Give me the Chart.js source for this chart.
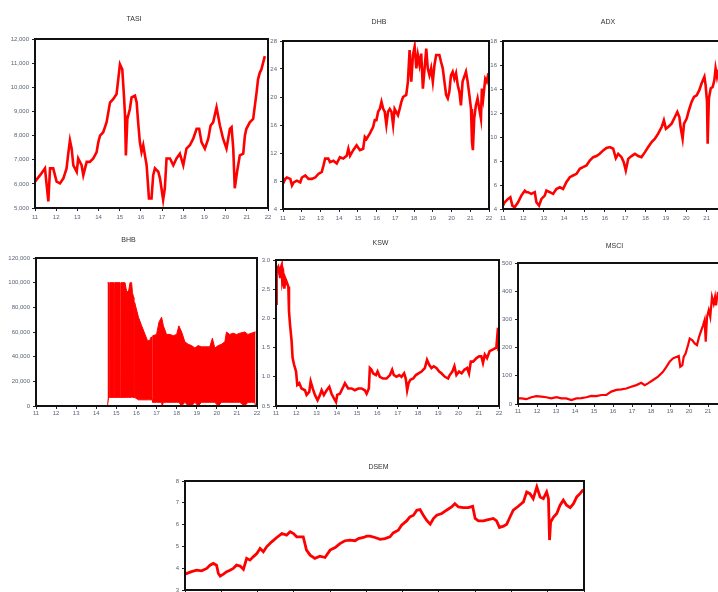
<!DOCTYPE html>
<html>
<head>
<meta charset="utf-8">
<script src="https://cdn.jsdelivr.net/npm/chart.js"></script>
<style>
  html, body { margin: 0; padding: 0; background: #fff; overflow: hidden; }
  body { width: 718px; height: 592px; position: relative; }
  canvas { position: absolute; }
</style>
</head>
<body>
<canvas id="tasi" width="275" height="216" style="left:0px;top:10px"></canvas>
<canvas id="dhb" width="227" height="217" style="left:269px;top:10px"></canvas>
<canvas id="adx" width="245" height="217" style="left:489px;top:10px"></canvas>
<canvas id="bhb" width="264" height="196" style="left:0px;top:228px"></canvas>
<canvas id="ksw" width="244" height="196" style="left:262px;top:228px"></canvas>
<canvas id="msci" width="232" height="194" style="left:502px;top:228px"></canvas>
<canvas id="dsem" width="418" height="153" style="left:173px;top:455px"></canvas>
<script>
// year axis: 11 = start of 2011 ... 22 = start of 2022
const yearTicks = [11, 12, 13, 14, 15, 16, 17, 18, 19, 20, 21, 22];

// [year, value]
const tasi = [
  [11.00,6090],[11.24,6360],[11.47,6640],[11.63,5270],[11.71,6640],[11.86,6640],[12.02,6090],[12.18,6020],[12.34,6230],[12.49,6640],
  [12.57,7250],[12.65,7800],[12.73,7460],[12.81,6770],[12.97,6500],[13.04,7050],[13.20,6770],[13.28,6360],[13.44,6910],[13.59,6910],
  [13.75,7050],[13.91,7320],[13.99,7730],[14.07,8000],[14.22,8140],[14.38,8550],[14.54,9370],[14.69,9510],[14.85,9720],[14.93,10330],
  [15.01,10950],[15.12,10740],[15.20,9650],[15.25,8830],[15.29,7180],[15.36,8690],[15.48,9100],[15.56,9580],[15.72,9650],[15.80,9370],
  [15.87,8550],[15.95,7730],[16.03,7320],[16.11,7600],[16.19,7180],[16.27,6770],[16.38,5400],[16.50,5400],[16.58,6360],[16.66,6640],
  [16.82,6500],[16.90,6230],[17.05,5340],[17.13,5820],[17.21,7050],[17.37,7050],[17.53,6770],[17.68,7050],[17.84,7250],[18.00,6770],
  [18.15,7460],[18.31,7600],[18.47,7870],[18.63,8280],[18.75,8280],[18.86,7730],[19.02,7460],[19.18,7870],[19.29,8420],[19.41,8550],
  [19.57,9170],[19.73,8420],[19.88,7870],[20.04,7460],[20.20,8280],[20.28,8350],[20.36,7460],[20.43,5820],[20.54,6500],[20.67,7180],
  [20.83,7250],[20.91,8000],[20.98,8280],[21.14,8550],[21.30,8690],[21.38,9240],[21.46,9780],[21.53,10330],[21.61,10600],[21.69,10740],
  [21.77,11020],[21.85,11290]
];

const dhb = [
  [11.00,7.6],[11.12,8.3],[11.21,8.5],[11.39,8.3],[11.48,7.35],[11.57,7.8],[11.74,8.05],[11.92,7.8],[12.01,8.5],[12.19,8.8],
  [12.36,8.3],[12.54,8.3],[12.72,8.5],[12.89,9.0],[13.07,9.3],[13.16,10.2],[13.25,11.2],[13.42,11.2],[13.51,10.7],[13.69,10.9],
  [13.87,10.5],[14.04,11.4],[14.22,11.2],[14.40,11.6],[14.49,12.6],[14.58,11.6],[14.75,12.4],[14.93,13.1],[15.11,12.4],[15.28,12.6],
  [15.37,14.3],[15.46,14.0],[15.64,14.8],[15.81,15.7],[15.90,16.7],[15.99,16.7],[16.08,17.9],[16.17,18.3],[16.26,19.3],[16.35,18.3],
  [16.43,17.9],[16.52,16.0],[16.61,17.9],[16.70,18.3],[16.79,17.9],[16.88,16.0],[16.96,18.3],[17.14,17.4],[17.23,18.3],[17.32,19.3],
  [17.41,20.0],[17.58,20.3],[17.67,22.2],[17.76,26.7],[17.85,22.2],[17.94,26.0],[18.03,27.2],[18.12,24.1],[18.20,26.0],[18.29,24.6],
  [18.38,26.2],[18.47,21.2],[18.56,24.1],[18.65,26.9],[18.73,24.1],[18.82,23.1],[18.91,24.1],[19.00,22.2],[19.09,24.6],[19.18,26.0],
  [19.35,26.0],[19.44,25.0],[19.53,24.1],[19.62,22.2],[19.71,20.3],[19.80,19.8],[19.88,20.7],[19.97,23.1],[20.06,23.6],[20.15,22.6],
  [20.24,23.4],[20.33,21.7],[20.42,20.7],[20.50,18.8],[20.59,22.2],[20.68,22.9],[20.77,23.6],[20.86,22.2],[20.95,20.3],[21.04,18.3],
  [21.09,13.6],[21.14,12.4],[21.21,16.9],[21.30,18.8],[21.39,19.8],[21.48,18.3],[21.57,16.9],[21.62,21.2],[21.69,19.8],[21.80,22.6],
  [21.88,22.2],[21.97,23.4]
];

const adx = [
  [11.00,4.28],[11.08,4.56],[11.25,4.84],[11.36,4.98],[11.46,4.28],[11.57,4.14],[11.74,4.56],[11.90,5.12],[12.07,5.53],[12.15,5.40],
  [12.23,5.40],[12.39,5.26],[12.56,5.40],[12.64,4.56],[12.77,4.28],[12.89,4.84],[13.05,5.12],[13.13,5.53],[13.30,5.40],[13.46,5.26],
  [13.62,5.67],[13.79,5.81],[13.95,5.67],[14.11,6.23],[14.28,6.65],[14.44,6.79],[14.61,6.93],[14.77,7.35],[14.93,7.49],[15.10,7.63],
  [15.26,8.04],[15.43,8.32],[15.59,8.41],[15.75,8.60],[15.92,8.88],[16.08,9.08],[16.25,9.16],[16.41,9.02],[16.54,8.24],[16.66,8.60],
  [16.82,8.32],[16.93,7.90],[17.03,7.21],[17.15,8.18],[17.31,8.41],[17.48,8.60],[17.64,8.41],[17.80,8.32],[17.97,8.74],[18.13,9.16],
  [18.30,9.58],[18.46,9.86],[18.62,10.28],[18.79,10.83],[18.90,11.39],[19.00,10.69],[19.11,10.83],[19.28,11.11],[19.44,11.67],[19.56,12.09],
  [19.66,11.67],[19.72,10.83],[19.82,9.86],[19.89,11.11],[20.02,11.53],[20.13,12.23],[20.26,12.92],[20.38,13.34],[20.51,13.48],[20.64,13.90],
  [20.75,14.46],[20.89,15.02],[20.95,14.32],[21.02,12.92],[21.05,9.44],[21.11,13.20],[21.20,14.04],[21.30,14.18],[21.38,14.74],[21.44,15.71],
  [21.51,15.02],[21.56,15.43],[21.75,16.2],[21.95,16.6]
];

// [year, low, high]
const bhb = [
  [14.56,0,100000],[14.61,7000,100000],[14.62,7000,7000],[14.66,7000,7000],[14.67,7000,100000],[14.87,7000,100000],
  [14.88,7000,7000],[14.91,7000,7000],[14.92,7000,100000],[15.18,7000,100000],[15.19,7000,7000],[15.22,7000,7000],
  [15.23,7000,100000],[15.43,7000,100000],[15.52,7000,92000],[15.62,7000,94000],[15.68,7000,100000],[15.76,7000,100000],
  [15.80,7000,92000],[15.86,7000,88000],[15.87,7000,7000],[15.90,7000,7000],[15.91,7000,84000],[16.10,5000,72000],
  [16.26,5000,65000],[16.43,5000,58000],[16.55,5000,53000],[16.66,5000,53000],[16.70,5000,55000],[16.74,5000,56000],
  [16.75,5000,5000],[16.80,5000,5000],[16.81,3000,57000],[17.00,3000,58000],[17.12,3000,68000],[17.25,3000,72000],
  [17.28,0,70000],[17.34,3000,65000],[17.50,3000,58000],[17.67,3000,58000],[17.83,3000,57000],[18.00,3000,58000],
  [18.11,3000,65000],[18.25,0,60000],[18.41,3000,52000],[18.58,0,50000],[18.74,0,49000],[18.91,3000,47000],
  [19.07,0,49000],[19.24,3000,48000],[19.40,3000,48000],[19.65,3000,48000],[19.78,3000,55000],[19.90,3000,47000],
  [20.07,0,49000],[20.23,3000,50000],[20.40,3000,52000],[20.48,3000,60000],[20.64,3000,58000],[20.81,3000,59000],
  [20.98,3000,58000],[21.14,3000,59000],[21.39,0,60000],[21.55,3000,58000],[21.72,3000,59000],[21.88,3000,60000],
  [21.93,0,60000]
];

const ksw = [
  [11.00,2.25],[11.03,2.83],[11.11,2.88],[11.20,2.71],[11.23,2.86],[11.28,2.91],[11.31,2.65],[11.36,2.74],[11.41,2.51],[11.46,2.68],
  [11.53,2.62],[11.61,2.54],[11.64,2.13],[11.69,1.90],[11.77,1.61],[11.82,1.32],[11.89,1.21],[11.99,1.09],[12.05,0.86],[12.15,0.89],
  [12.26,0.80],[12.43,0.77],[12.51,0.69],[12.64,0.74],[12.71,0.92],[12.81,0.80],[12.92,0.69],[13.05,0.60],[13.17,0.69],[13.25,0.77],
  [13.36,0.69],[13.50,0.77],[13.63,0.83],[13.74,0.71],[13.86,0.63],[13.96,0.57],[14.02,0.69],[14.15,0.71],[14.32,0.83],[14.40,0.89],
  [14.56,0.80],[14.73,0.80],[14.89,0.77],[15.06,0.80],[15.22,0.80],[15.38,0.77],[15.47,0.71],[15.58,0.80],[15.63,1.15],[15.71,1.12],
  [15.79,1.06],[15.93,1.03],[16.01,1.09],[16.12,1.00],[16.28,0.97],[16.45,0.97],[16.62,1.03],[16.73,1.12],[16.81,1.03],[16.94,1.00],
  [17.08,1.03],[17.19,1.00],[17.32,1.06],[17.40,0.97],[17.47,0.77],[17.54,0.89],[17.63,0.95],[17.77,0.97],[17.90,1.03],[18.03,1.06],
  [18.18,1.09],[18.34,1.15],[18.45,1.29],[18.55,1.21],[18.67,1.15],[18.78,1.18],[18.91,1.15],[19.05,1.09],[19.16,1.06],[19.33,1.00],
  [19.49,0.97],[19.57,1.03],[19.70,1.09],[19.80,1.18],[19.90,1.03],[20.03,1.09],[20.16,1.06],[20.29,1.12],[20.43,1.15],[20.52,1.06],
  [20.61,1.26],[20.72,1.26],[20.89,1.32],[21.02,1.35],[21.13,1.35],[21.21,1.24],[21.30,1.38],[21.41,1.32],[21.54,1.44],[21.71,1.47],
  [21.87,1.50],[21.95,1.84],[21.98,1.44]
];

const msci = [
  [11.00,20],[11.18,20],[11.44,17],[11.70,24],[11.96,28],[12.23,26],[12.49,24],[12.75,20],[13.02,24],[13.28,20],
  [13.54,20],[13.81,14],[14.07,20],[14.33,21],[14.60,24],[14.86,29],[15.12,28],[15.39,32],[15.65,32],[15.91,44],
  [16.18,50],[16.44,52],[16.70,55],[16.96,61],[17.23,67],[17.49,75],[17.67,67],[17.84,73],[18.11,85],[18.37,97],
  [18.63,114],[18.81,132],[18.98,150],[19.16,162],[19.33,167],[19.46,170],[19.54,132],[19.65,138],[19.72,167],[19.82,179],
  [19.95,209],[20.04,232],[20.18,226],[20.30,215],[20.42,209],[20.53,238],[20.65,262],[20.74,279],[20.82,297],[20.88,221],
  [20.95,309],[21.04,333],[21.12,309],[21.21,380],[21.30,356],[21.37,380],[21.42,350],[21.51,392],[21.75,380],[21.95,400]
];

const dsem = [
  [11.00,3.73],[11.18,3.84],[11.32,3.91],[11.46,3.88],[11.60,3.99],[11.69,4.14],[11.78,4.22],[11.87,4.14],[11.92,3.76],[11.97,3.64],
  [12.06,3.73],[12.15,3.84],[12.24,3.91],[12.33,3.99],[12.42,4.14],[12.52,4.10],[12.61,3.95],[12.70,4.45],[12.79,4.37],[12.88,4.52],
  [12.98,4.67],[13.07,4.90],[13.16,4.75],[13.25,4.98],[13.39,5.21],[13.53,5.41],[13.67,5.59],[13.80,5.52],[13.90,5.67],[13.99,5.59],
  [14.08,5.44],[14.17,5.44],[14.26,5.44],[14.35,4.83],[14.45,4.60],[14.58,4.45],[14.72,4.55],[14.86,4.49],[15.00,4.83],[15.14,4.95],
  [15.27,5.13],[15.41,5.26],[15.55,5.29],[15.69,5.26],[15.78,5.36],[15.92,5.41],[16.01,5.47],[16.10,5.47],[16.24,5.41],[16.38,5.32],
  [16.51,5.36],[16.65,5.44],[16.74,5.62],[16.88,5.74],[16.97,5.97],[17.11,6.17],[17.20,6.35],[17.30,6.43],[17.39,6.66],[17.48,6.69],
  [17.57,6.43],[17.66,6.20],[17.76,6.02],[17.85,6.28],[17.94,6.43],[18.08,6.51],[18.21,6.66],[18.35,6.81],[18.44,6.96],[18.54,6.81],
  [18.67,6.78],[18.81,6.78],[18.93,6.84],[19.00,6.28],[19.09,6.17],[19.23,6.17],[19.36,6.23],[19.50,6.28],[19.59,6.17],[19.67,5.87],
  [19.78,5.93],[19.87,6.02],[19.96,6.35],[20.05,6.66],[20.19,6.84],[20.33,7.04],[20.42,7.50],[20.51,7.42],[20.60,7.19],[20.70,7.73],
  [20.79,7.27],[20.88,7.19],[20.97,7.50],[21.02,7.19],[21.05,5.29],[21.08,6.12],[21.16,6.35],[21.25,6.51],[21.34,6.89],[21.43,7.12],
  [21.52,6.89],[21.62,6.78],[21.71,6.96],[21.80,7.27],[21.89,7.42],[21.98,7.60]
];

Chart.defaults.font.family = "'Liberation Sans', Arial, sans-serif";
const RED = '#ff0000';
const TICK = '#5a6478';

// thick frame around each plot area
const frame = {
  id: 'frame',
  afterDraw(c) {
    const a = c.chartArea, ctx = c.ctx;
    ctx.save();
    ctx.strokeStyle = '#111';
    ctx.lineWidth = 2;
    ctx.strokeRect(a.left, a.top, a.right - a.left, a.bottom - a.top);
    ctx.restore();
  }
};

function line(rows, width) {
  return {
    data: rows.map(r => ({ x: r[0], y: r[1] })),
    borderColor: RED, borderWidth: width || 2,
    pointRadius: 0, tension: 0, fill: false
  };
}

function panel(id, o) {
  return new Chart(document.getElementById(id), {
    type: 'line',
    data: { datasets: o.datasets },
    options: {
      responsive: false,
      animation: false,
      layout: { padding: { right: 7 } },
      plugins: {
        legend: { display: false },
        tooltip: { enabled: false },
        title: {
          display: true, text: o.title, color: '#333',
          font: { size: 7, weight: 'normal' },
          padding: { top: o.tp, bottom: o.bp }
        }
      },
      scales: {
        x: {
          type: 'linear', min: 11, max: 22,
          afterBuildTicks: s => { s.ticks = yearTicks.map(v => ({ value: v })); },
          afterFit: s => { s.height = 18; },
          ticks: { color: TICK, font: { size: 6 }, padding: o.xpad, maxRotation: 0, autoSkip: false,
                   callback: v => String(v) },
          grid: { drawOnChartArea: false, tickLength: 3, color: '#222' },
          border: { display: false }
        },
        y: {
          min: o.min, max: o.max,
          afterFit: s => { s.width = o.yw; },
          ticks: { stepSize: o.step, color: TICK, font: { size: 6 }, padding: 3, callback: o.fmt },
          grid: { drawOnChartArea: false, tickLength: 3, color: '#222' },
          border: { display: false }
        }
      }
    },
    plugins: [frame]
  });
}

const thousands = v => v.toLocaleString('en-US');
const whole = v => String(v);

panel('tasi', { title: 'TASI', datasets: [line(tasi, 2.6)], min: 5000, max: 12000, step: 1000,
  fmt: thousands, yw: 35, tp: 4.8, bp: 15.8, xpad: 3 });

panel('dhb', { title: 'DHB', datasets: [line(dhb, 2.6)], min: 4, max: 28, step: 4,
  fmt: whole, yw: 14, tp: 7.8, bp: 14.8, xpad: 3 });

panel('adx', { title: 'ADX', datasets: [line(adx, 2.6)], min: 4, max: 18, step: 2,
  fmt: whole, yw: 14, tp: 7.8, bp: 14.8, xpad: 3 });

panel('bhb', { title: 'BHB', datasets: [
    { data: bhb.map(r => ({ x: r[0], y: r[2] })), borderColor: RED, backgroundColor: RED,
      borderWidth: 1, pointRadius: 0, tension: 0, fill: '+1' },
    { data: bhb.map(r => ({ x: r[0], y: r[1] })), borderColor: RED,
      borderWidth: 1, pointRadius: 0, tension: 0, fill: false }
  ], min: 0, max: 120000, step: 20000,
  fmt: thousands, yw: 36, tp: 7.8, bp: 13.8, xpad: 1 });

panel('ksw', { title: 'KSW', datasets: [line(ksw, 2.6)], min: 0.5, max: 3.0, step: 0.5,
  fmt: v => v.toFixed(1), yw: 14, tp: 10.8, bp: 12.8, xpad: 1 });

panel('msci', { title: 'MSCI', datasets: [line(msci, 2.2)], min: 0, max: 500, step: 100,
  fmt: whole, yw: 16, tp: 13.8, bp: 12.8, xpad: 1 });

panel('dsem', { title: 'DSEM', datasets: [line(dsem, 2.8)], min: 3, max: 8, step: 1,
  fmt: whole, yw: 12, tp: 7.8, bp: 9.8, xpad: 1 });
</script>
</body>
</html>
